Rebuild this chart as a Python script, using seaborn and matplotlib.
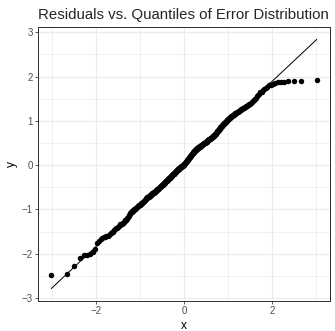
import numpy as np
import pandas as pd
import matplotlib
matplotlib.use("Agg")
import matplotlib.pyplot as plt
import seaborn as sns
from statistics import NormalDist

# sorted residuals (400 points)
residuals = [
    -2.49, -2.46, -2.27, -2.10, -2.03, -2.02, -2.00, -1.96, -1.90, -1.76,
    -1.71, -1.66, -1.64, -1.63, -1.62, -1.61, -1.60, -1.58, -1.56, -1.54,
    -1.52, -1.50, -1.47, -1.45, -1.43, -1.41, -1.39, -1.37, -1.35, -1.34,
    -1.33, -1.32, -1.31, -1.30, -1.28, -1.27, -1.25, -1.23, -1.21, -1.19,
    -1.17, -1.15, -1.13, -1.11, -1.09, -1.07, -1.05, -1.04, -1.03, -1.02,
    -1.01, -1.00, -0.99, -0.98, -0.97, -0.96, -0.95, -0.94, -0.93, -0.92,
    -0.91, -0.90, -0.89, -0.89, -0.88, -0.87, -0.86, -0.86, -0.85, -0.84,
    -0.83, -0.82, -0.81, -0.80, -0.79, -0.78, -0.77, -0.76, -0.75, -0.74,
    -0.73, -0.73, -0.72, -0.71, -0.71, -0.70, -0.69, -0.69, -0.68, -0.67,
    -0.67, -0.66, -0.65, -0.65, -0.64, -0.63, -0.63, -0.62, -0.61, -0.61,
    -0.60, -0.60, -0.59, -0.58, -0.58, -0.57, -0.56, -0.56, -0.55, -0.54,
    -0.54, -0.53, -0.52, -0.52, -0.51, -0.50, -0.50, -0.49, -0.48, -0.48,
    -0.47, -0.47, -0.46, -0.45, -0.45, -0.44, -0.43, -0.43, -0.42, -0.41,
    -0.40, -0.40, -0.39, -0.38, -0.38, -0.37, -0.36, -0.36, -0.35, -0.34,
    -0.34, -0.33, -0.32, -0.32, -0.31, -0.30, -0.30, -0.29, -0.28, -0.28,
    -0.27, -0.26, -0.26, -0.25, -0.24, -0.24, -0.23, -0.22, -0.22, -0.21,
    -0.21, -0.20, -0.19, -0.19, -0.18, -0.17, -0.17, -0.16, -0.15, -0.15,
    -0.14, -0.13, -0.13, -0.12, -0.11, -0.11, -0.10, -0.09, -0.09, -0.08,
    -0.08, -0.08, -0.07, -0.07, -0.06, -0.06, -0.05, -0.05, -0.04, -0.04,
    -0.03, -0.03, -0.02, -0.02, -0.01, -0.01, 0.00, 0.00, 0.00, 0.01,
    0.02, 0.03, 0.04, 0.05, 0.05, 0.06, 0.07, 0.07, 0.08, 0.09,
    0.10, 0.11, 0.11, 0.12, 0.13, 0.14, 0.15, 0.15, 0.16, 0.17,
    0.18, 0.19, 0.20, 0.21, 0.21, 0.22, 0.23, 0.24, 0.25, 0.26,
    0.26, 0.27, 0.28, 0.29, 0.29, 0.30, 0.31, 0.32, 0.32, 0.33,
    0.34, 0.34, 0.35, 0.36, 0.36, 0.37, 0.37, 0.38, 0.38, 0.39,
    0.39, 0.40, 0.40, 0.41, 0.41, 0.42, 0.42, 0.43, 0.43, 0.44,
    0.44, 0.45, 0.45, 0.46, 0.46, 0.47, 0.47, 0.48, 0.48, 0.49,
    0.49, 0.50, 0.50, 0.51, 0.51, 0.52, 0.52, 0.53, 0.53, 0.54,
    0.55, 0.55, 0.56, 0.56, 0.57, 0.58, 0.58, 0.59, 0.59, 0.60,
    0.60, 0.61, 0.62, 0.62, 0.63, 0.63, 0.64, 0.64, 0.65, 0.65,
    0.66, 0.67, 0.68, 0.69, 0.70, 0.71, 0.72, 0.73, 0.74, 0.75,
    0.76, 0.77, 0.78, 0.79, 0.80, 0.81, 0.82, 0.83, 0.85, 0.86,
    0.87, 0.88, 0.89, 0.90, 0.91, 0.92, 0.93, 0.94, 0.95, 0.96,
    0.97, 0.98, 0.99, 1.00, 1.01, 1.02, 1.03, 1.04, 1.05, 1.06,
    1.07, 1.08, 1.09, 1.10, 1.11, 1.12, 1.13, 1.13, 1.14, 1.15,
    1.16, 1.17, 1.18, 1.18, 1.19, 1.20, 1.21, 1.22, 1.23, 1.24,
    1.25, 1.26, 1.27, 1.28, 1.29, 1.30, 1.31, 1.32, 1.33, 1.34,
    1.35, 1.36, 1.38, 1.39, 1.41, 1.43, 1.45, 1.47, 1.49, 1.52,
    1.55, 1.58, 1.61, 1.64, 1.66, 1.69, 1.72, 1.75, 1.77, 1.80,
    1.82, 1.84, 1.86, 1.87, 1.88, 1.88, 1.89, 1.90, 1.91, 1.93,
]

x_breaks = [-2, 0, 2]
x_minor = [-3, -1, 1, 3]
y_breaks = [-3, -2, -1, 0, 1, 2, 3]
y_minor = [-2.5, -1.5, -0.5, 0.5, 1.5, 2.5]

# ─── qq stat: theoretical normal quantiles + line through quartiles ───────────
n = len(residuals)
sample = np.sort(np.array(residuals))
nd = NormalDist()
theo = np.array([nd.inv_cdf((i + 0.5) / n) for i in range(n)])
df = pd.DataFrame({"x": theo, "y": sample})

q1, q3 = np.quantile(sample, [0.25, 0.75])
t1, t3 = nd.inv_cdf(0.25), nd.inv_cdf(0.75)
slope = (q3 - q1) / (t3 - t1)
intercept = q1 - slope * t1
line_df = pd.DataFrame({"x": [theo.min(), theo.max()]})
line_df["y"] = intercept + slope * line_df["x"]

# ─── theme_bw look ─────────────────────────────────────────────────────────────
sns.set_theme(style="white")
plt.rcParams['font.family'] = ['Liberation Sans', 'DejaVu Sans']

fig = plt.figure(figsize=(335 / 72, 331 / 72), dpi=72)
ax = fig.add_axes([38 / 335, 1 - 301 / 331, 292 / 335, 274 / 331])

for v in x_minor:
    ax.axvline(v, color='#EBEBEB', lw=0.7, zorder=0)
for v in y_minor:
    ax.axhline(v, color='#EBEBEB', lw=0.7, zorder=0)
for v in x_breaks:
    ax.axvline(v, color='#EBEBEB', lw=1.3, zorder=0)
for v in y_breaks:
    ax.axhline(v, color='#EBEBEB', lw=1.3, zorder=0)

sns.lineplot(data=line_df, x="x", y="y", color='black', lw=1.0, ax=ax, zorder=2)
sns.scatterplot(data=df, x="x", y="y", color='black', s=30, linewidth=0,
                ax=ax, zorder=3)

xr = theo.max() - theo.min()
ax.set_xlim(theo.min() - 0.05 * xr, theo.max() + 0.05 * xr)
ylo = min(sample.min(), line_df["y"].min())
yhi = max(sample.max(), line_df["y"].max())
yr = yhi - ylo
ax.set_ylim(ylo - 0.05 * yr, yhi + 0.05 * yr)

ax.set_xticks(x_breaks)
ax.set_xticklabels(['\u22122', '0', '2'])
ax.set_yticks(y_breaks)
ax.set_yticklabels(['\u22123', '\u22122', '\u22121', '0', '1', '2', '3'])
ax.tick_params(axis='both', which='major', length=3, width=0.8, color='#333333',
               labelsize=9.8, labelcolor='#4D4D4D', pad=2.2, bottom=True, left=True)

for sp in ax.spines.values():
    sp.set_color('#333333')
    sp.set_linewidth(1.0)

ax.set_xlabel('x', fontsize=12, color='black', labelpad=3.5)
ax.set_ylabel('y', fontsize=12, color='black', labelpad=4)
ax.set_title('Residuals vs. Quantiles of Error Distribution', loc='left',
             fontsize=15, pad=8)

fig.savefig('out.png', dpi=72)
